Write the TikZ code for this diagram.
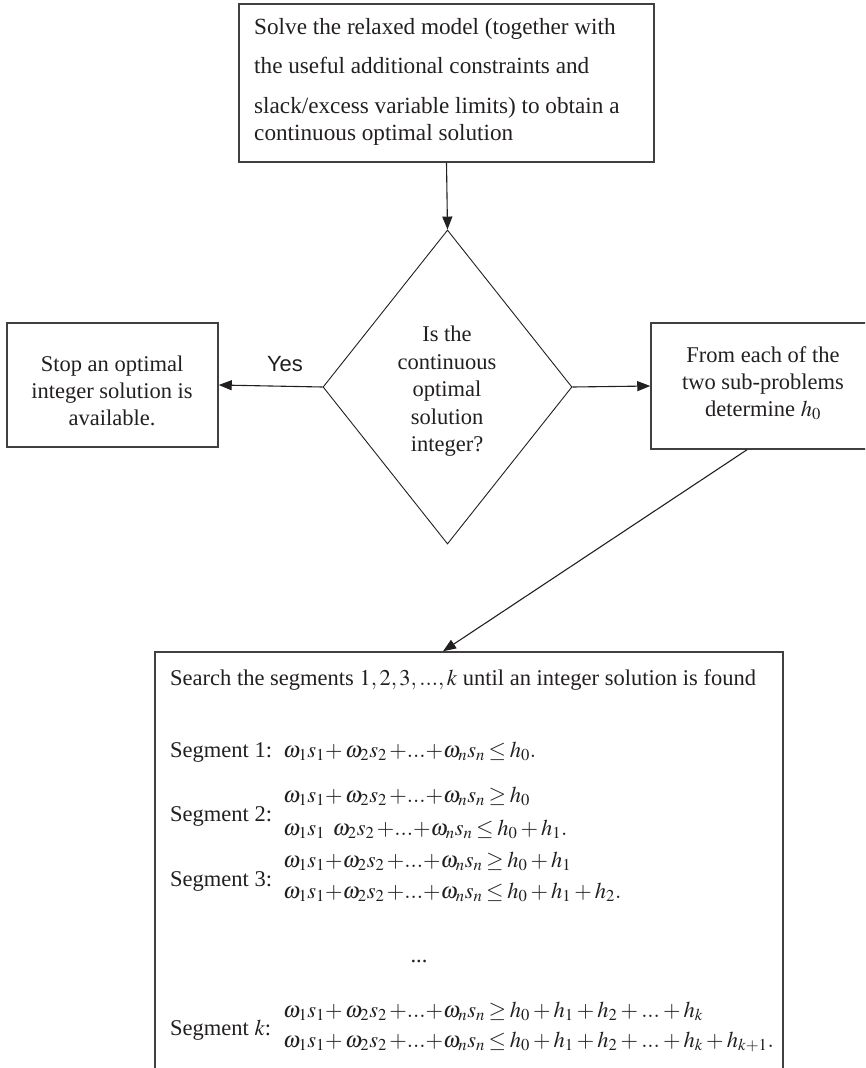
\documentclass[tikz,border=0pt]{standalone}
\usepackage{mathptmx}
\usepackage[no-math]{fontspec}
\setmainfont{Liberation Serif}
\newfontfamily\labelsans{Liberation Sans}
\usetikzlibrary{shapes.geometric,arrows.meta}
\definecolor{framegray}{RGB}{64,64,64}
\definecolor{inkblack}{RGB}{35,31,32}

\begin{document}
% slightly tighter spacing around binary operators and relations
\medmuskip=2.5mu
\thickmuskip=3mu
\begin{tikzpicture}[x=1pt,y=-1pt,
  frame/.style={draw=framegray,line width=1.5pt,inner sep=0pt},
  decision/.style={draw=inkblack,line width=0.9pt,diamond,inner sep=0pt},
  txt/.style={inner sep=0pt,text=inkblack,font=\fontsize{22.5}{27}\selectfont},
  flow/.style={draw=inkblack,line width=1.1pt,-{Triangle[length=13pt,width=10pt]}}]
\useasboundingbox (0,0) rectangle (865,1068);
\clip (0,0) rectangle (865,1068);

% boxes and the decision diamond
\node[frame,minimum width=415pt,minimum height=158pt] (solve) at (446.5,83) {};
\node[decision,minimum width=249pt,minimum height=314pt] (check) at (447.5,387) {};
\node[frame,minimum width=211pt,minimum height=124pt] (stop) at (112.5,385) {};
\node[frame,minimum width=224pt,minimum height=126pt] (sub) at (763,386) {};
\node[frame,minimum width=628pt,minimum height=428pt] (seg) at (469,866) {};

% box texts
\node[txt,align=left,anchor=north west,font=\fontsize{23.2}{27}\selectfont] (solvetext) at (254,18)
  {Solve the relaxed model (together with\\[12pt]the useful additional constraints and\\[13pt]slack/excess variable limits) to obtain a\\continuous optimal solution};
\node[txt,align=center,anchor=north,font=\fontsize{22.5}{27.5}\selectfont] (checktext) at (447,326)
  {Is the\\continuous\\optimal\\solution\\integer?};
\node[txt,align=center,anchor=north] (stoptext) at (112,356)
  {Stop an optimal\\integer solution is\\available.};
\node[txt,align=center,anchor=north] (subtext) at (763,346)
  {From each of the\\two sub-problems\\determine $h_0$};

% connectors
\draw[flow] (solve.south) -- (check.north);
\draw[flow] (check.west) -- (stop.east);
\draw[flow] (check.east) -- (sub.west);
\draw[flow] ([xshift=-16pt]sub.south) -- ([xshift=-26pt]seg.north);
\node[inner sep=0pt,anchor=base,text=inkblack,font=\labelsans\fontsize{22}{26}\selectfont] (yes) at (285,371) {Yes};

% segment list
\node[txt,anchor=base west] (search) at (170,685)
  {Search the segments $1,2,3,...,k$ until an integer solution is found};
\node[txt,anchor=base west] (s1label) at (170,757) {Segment 1:};
\node[txt,anchor=base west] (s1eq) at (283,757)
  {$\omega_1s_1{+}\,\omega_2s_2\,{+}...{+}\omega_ns_n\le h_0.$};
\node[txt,anchor=base west] (s2label) at (170,821) {Segment 2:};
\node[txt,anchor=base west] (s2eqa) at (283,802)
  {$\omega_1s_1{+}\,\omega_2s_2\,{+}...{+}\omega_ns_n\ge h_0$};
\node[txt,anchor=base west] (s2eqb) at (283,835)
  {$\omega_1s_1\;\;\omega_2s_2\,{+}...{+}\omega_ns_n\le h_0+h_1.$};
\node[txt,anchor=base west] (s3label) at (170,886) {Segment 3:};
\node[txt,anchor=base west] (s3eqa) at (283,867)
  {$\omega_1s_1{+}\omega_2s_2\,{+}...{+}\omega_ns_n\ge h_0+h_1$};
\node[txt,anchor=base west] (s3eqb) at (283,898)
  {$\omega_1s_1{+}\omega_2s_2\,{+}...{+}\omega_ns_n\le h_0+h_1+h_2.$};
\node[txt,anchor=base] (gap) at (419,962) {...};
\node[txt,anchor=base west] (sklabel) at (170,1035) {Segment $k$:};
\node[txt,anchor=base west] (skeqa) at (283,1017)
  {$\omega_1s_1{+}\,\omega_2s_2\,{+}...{+}\omega_ns_n\ge h_0+h_1+h_2+{...}+h_k$};
\node[txt,anchor=base west] (skeqb) at (283,1047)
  {$\omega_1s_1{+}\,\omega_2s_2\,{+}...{+}\omega_ns_n\le h_0+h_1+h_2+{...}+h_k+h_{k+1}.$};
\end{tikzpicture}
\end{document}
